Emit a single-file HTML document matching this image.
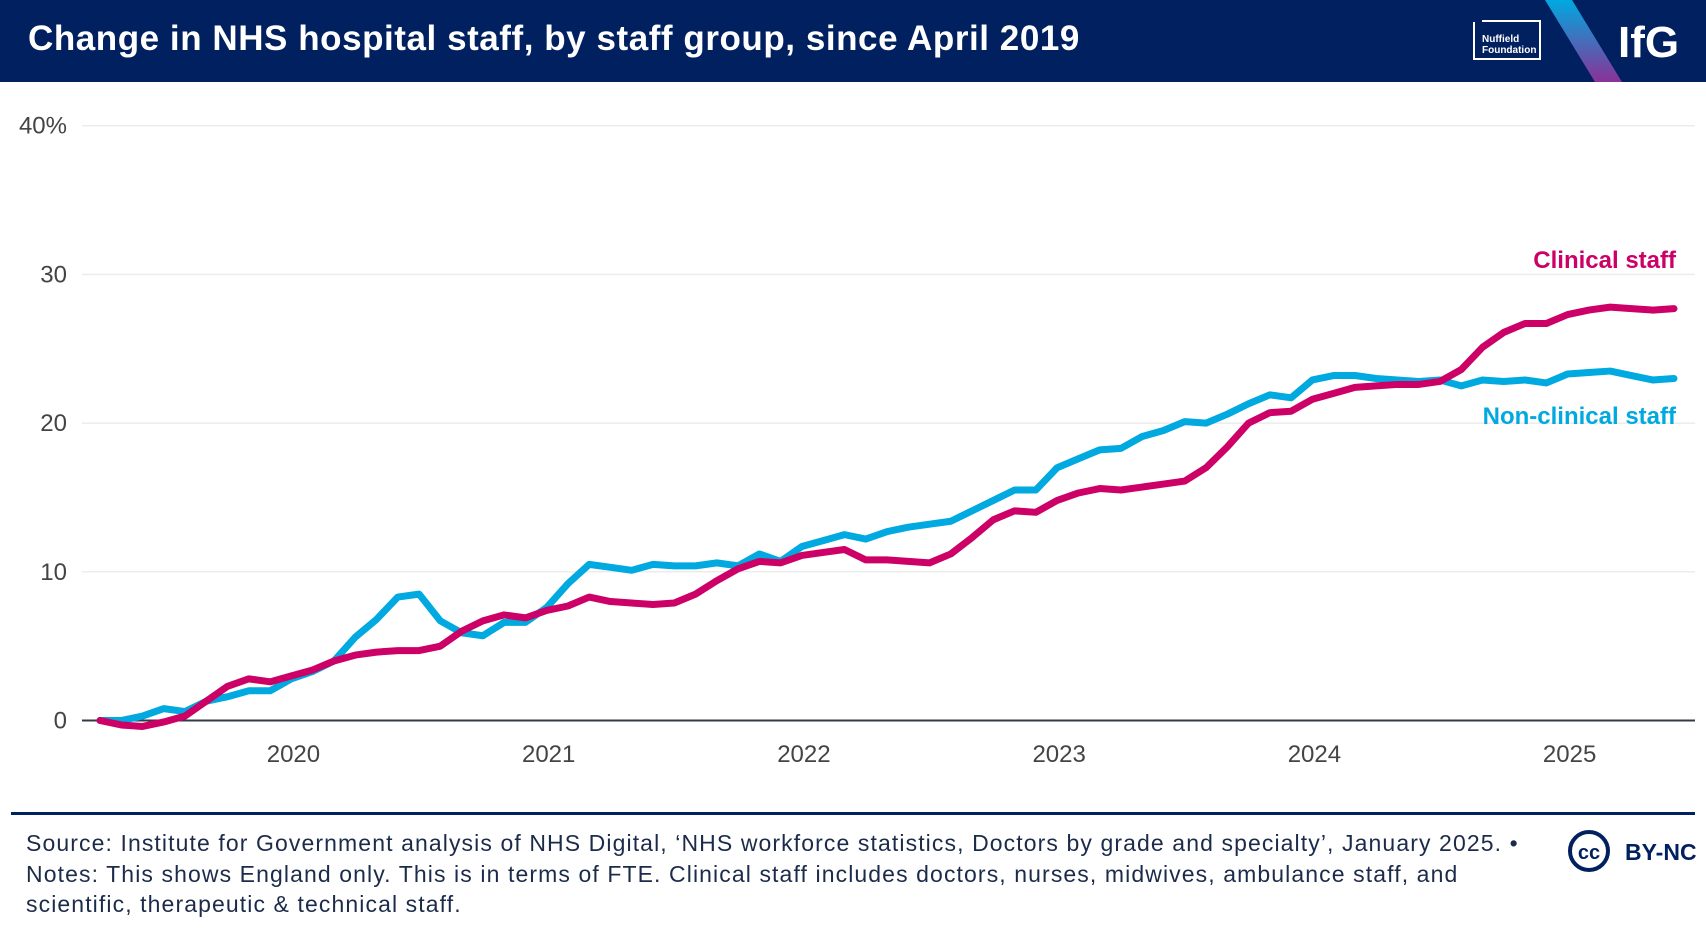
<!DOCTYPE html>
<html><head><meta charset="utf-8"><style>
body{margin:0;width:1706px;height:932px;background:#fff;font-family:"Liberation Sans",sans-serif;overflow:hidden;position:relative}
.hdr{position:absolute;left:0;top:0;width:1706px;height:82px;background:#00205f}
.title{position:absolute;left:28px;top:19px;color:#fff;font-size:35px;font-weight:bold;letter-spacing:0.55px}
.foot{position:absolute;left:26px;top:828px;font-size:23px;line-height:30.5px;color:#1c2b4a;letter-spacing:1.1px}
</style></head><body>
<div class="hdr"></div>
<div class="title">Change in NHS hospital staff, by staff group, since April 2019</div>
<svg width="1706" height="932" style="position:absolute;left:0;top:0">
<defs><linearGradient id="g" x1="0" y1="0" x2="0" y2="1"><stop offset="0" stop-color="#00a9e0"/><stop offset="1" stop-color="#8a3297"/></linearGradient></defs>
<polygon points="1545,0 1572,0 1622,82 1595,82" fill="url(#g)"/>
<g>
<polyline points="1474,22 1474,59 1540,59 1540,21 1482,21" fill="none" stroke="#fff" stroke-width="2"/>
<text x="1482" y="42" fill="#fff" font-size="10" font-weight="bold">Nuffield</text>
<text x="1482" y="53" fill="#fff" font-size="10" font-weight="bold">Foundation</text>
</g>
<text x="1618" y="57" fill="#fff" font-size="44" font-weight="bold">IfG</text>
<g id="grid"></g><g id="lines"></g>
<text x="1676" y="268" text-anchor="end" fill="#cc0066" font-size="24" font-weight="bold">Clinical staff</text>
<text x="1676" y="424" text-anchor="end" fill="#00a9e0" font-size="24" font-weight="bold">Non-clinical staff</text>
<rect x="11" y="812" width="1684" height="3" fill="#00205f"/>
<g>
<circle cx="1589" cy="851" r="19" fill="none" stroke="#00205f" stroke-width="4"/>
<text x="1589" y="859" text-anchor="middle" fill="#00205f" font-size="20" font-weight="bold">cc</text>
<text x="1625" y="860" fill="#00205f" font-size="23" font-weight="bold">BY-NC</text>
</g>
</svg>
<div class="foot">Source: Institute for Government analysis of NHS Digital, ‘NHS workforce statistics, Doctors by grade and specialty’, January 2025. •<br>Notes: This shows England only. This is in terms of FTE. Clinical staff includes doctors, nurses, midwives, ambulance staff, and<br>scientific, therapeutic &amp; technical staff.</div>
<script>
const yTicks=[0,10,20,30,40];
const yTickLabels=["0","10","20","30","40%"];
const xYears=["2020","2021","2022","2023","2024","2025"];
const clinical=[0,-0.3,-0.4,-0.1,0.3,1.3,2.3,2.8,2.6,3.0,3.4,4.0,4.4,4.6,4.7,4.7,5.0,6.0,6.7,7.1,6.9,7.4,7.7,8.3,8.0,7.9,7.8,7.9,8.5,9.4,10.2,10.7,10.6,11.1,11.3,11.5,10.8,10.8,10.7,10.6,11.2,12.3,13.5,14.1,14.0,14.8,15.3,15.6,15.5,15.7,15.9,16.1,17.0,18.4,20.0,20.7,20.8,21.6,22.0,22.4,22.5,22.6,22.6,22.8,23.6,25.1,26.1,26.7,26.7,27.3,27.6,27.8,27.7,27.6,27.7];
const nonClinical=[0,0,0.3,0.8,0.6,1.3,1.6,2.0,2.0,2.8,3.3,4.0,5.6,6.8,8.3,8.5,6.7,5.9,5.7,6.6,6.6,7.6,9.2,10.5,10.3,10.1,10.5,10.4,10.4,10.6,10.4,11.2,10.7,11.7,12.1,12.5,12.2,12.7,13.0,13.2,13.4,14.1,14.8,15.5,15.5,17.0,17.6,18.2,18.3,19.1,19.5,20.1,20.0,20.6,21.3,21.9,21.7,22.9,23.2,23.2,23.0,22.9,22.8,22.9,22.5,22.9,22.8,22.9,22.7,23.3,23.4,23.5,23.2,22.9,23.0];
const NS="http://www.w3.org/2000/svg";
const x=i=>100+i*21.27;          // months since Apr 2019
const y=v=>720.5-v*14.87;
const grid=document.getElementById('grid'),lines=document.getElementById('lines');
function mk(t,a,p){const e=document.createElementNS(NS,t);for(const k in a)e.setAttribute(k,a[k]);p.appendChild(e);return e;}
yTicks.forEach((v,k)=>{
 const l=mk('line',{x1:82,x2:1695,y1:y(v),y2:y(v),stroke:v===0?'#333a45':'#ececec','stroke-width':v===0?2:1.5},grid);
 
 
 const t=mk('text',{x:67,y:y(v)+8,'text-anchor':'end','font-size':24,fill:'#444'},grid);
 t.textContent=yTickLabels[k];
 
 
});
xYears.forEach((s,k)=>{
 const t=mk('text',{x:x(9+12*k)+2,y:762,'text-anchor':'middle','font-size':24,fill:'#444'},grid);
 t.textContent=s;
 
 
});
function line(d,c,n){
 const p=mk('polyline',{points:d.map((v,i)=>x(i)+','+y(v)).join(' '),fill:'none',stroke:c,'stroke-width':7,'stroke-linejoin':'round','stroke-linecap':'round'},lines);
 
 
}
line(nonClinical,'#00a9e0','nonclinical-line');
line(clinical,'#cc0066','clinical-line');
</script>
</body></html>
